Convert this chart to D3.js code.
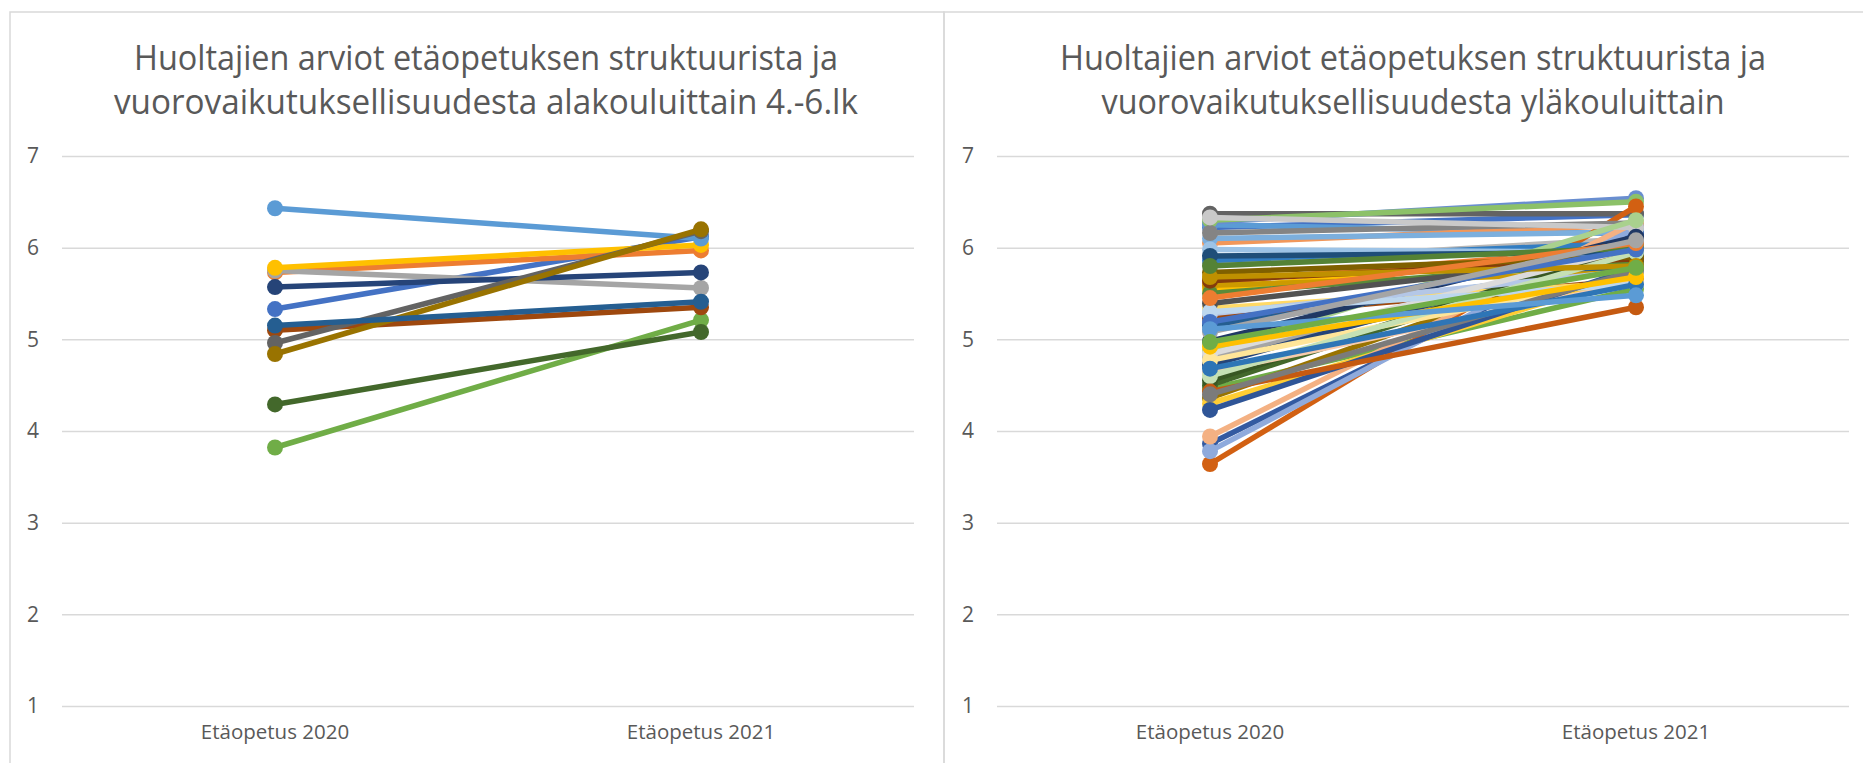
<!DOCTYPE html>
<html>
<head>
<meta charset="utf-8">
<script src="https://cdn.jsdelivr.net/npm/d3@7/dist/d3.min.js"></script>
<style>
  body { margin: 0; background: #fff; }
  svg text { font-family: "Open Sans", "Liberation Sans", sans-serif; fill: #595959; }
  .grid line { stroke: #d9d9d9; stroke-width: 1.5; }
  .panel { fill: none; stroke: #d9d9d9; stroke-width: 1.5; }
</style>
</head>
<body>
<svg id="chart"></svg>
<script>
// categories and ticks
const categories = ['Etäopetus 2020', 'Etäopetus 2021']
const yTicks = [1, 2, 3, 4, 5, 6, 7]

// left chart: alakoulut 4.-6.lk, one school per series
const left2020 = [5.33, 5.73, 5.75, 5.78, 6.43, 3.82, 5.57, 5.10, 4.96, 4.84, 5.15, 4.29]
const left2021 = [6.12, 5.97, 5.56, 6.03, 6.10, 5.21, 5.73, 5.35, 6.18, 6.20, 5.41, 5.08]

// right chart: yläkoulut
const right2020 = [
  6.22, 5.62, 4.81, 5.55, 6.25, 4.46, 4.72, 5.23, 6.37, 4.36, 5.15, 4.50,
  6.28, 6.05, 5.83, 4.30, 6.10, 6.30, 3.86, 3.64, 6.16, 5.59, 5.86, 5.50,
  3.78, 3.94, 6.33, 5.34, 5.98, 4.88, 4.98, 5.64, 5.39, 5.73, 5.91, 4.55,
  5.28, 4.64, 4.84, 4.77, 5.30, 4.60, 4.23, 4.43, 4.40, 5.68, 4.68, 5.80,
  5.19, 5.45, 5.08, 4.92, 5.11, 4.97
]
const right2021 = [
  6.36, 6.00, 5.85, 5.95, 6.15, 5.55, 6.00, 5.65, 6.37, 6.00, 5.82, 6.02,
  6.54, 6.25, 6.10, 5.70, 6.17, 6.50, 6.15, 6.45, 6.27, 5.73, 6.05, 5.85,
  6.22, 6.28, 6.22, 5.62, 5.95, 6.30, 6.12, 5.88, 5.92, 5.90, 5.95, 6.03,
  5.75, 5.62, 6.00, 5.70, 5.60, 5.95, 5.78, 5.35, 5.75, 5.80, 5.60, 6.00,
  5.98, 6.05, 6.08, 5.68, 5.48, 5.78
]

// office-like series colours
const palette = [
  '#4472C4', '#ED7D31', '#A5A5A5', '#FFC000', '#5B9BD5', '#70AD47',
  '#264478', '#9E480E', '#636363', '#997300', '#255E91', '#43682B',
  '#698ED0', '#F1975A', '#B7B7B7', '#FFCD33', '#7CAFDD', '#8CC168',
  '#335AA1', '#D26012', '#848484', '#CC9A00', '#327DC2', '#5A8A39',
  '#8FAADC', '#F4B183', '#C9C9C9', '#FFD966', '#9DC3E6', '#A9D18E',
  '#203864', '#843C0C', '#525252', '#7F6000', '#1F4E79', '#385723',
  '#B4C7E7', '#F8CBAD', '#DBDBDB', '#FFE699', '#BDD7EE', '#C5E0B4',
  '#2F5597', '#C55A11', '#7B7B7B', '#BF9000', '#2E75B6', '#548235'
]

const W = 1863, H = 763

const svg = d3.select('#chart').attr('width', W).attr('height', H)

// chart borders
svg.append('rect').attr('class', 'panel').attr('x', 10).attr('y', 12).attr('width', 934).attr('height', 800)
svg.append('rect').attr('class', 'panel').attr('x', 944).attr('y', 12).attr('width', 940).attr('height', 800)

class SlopeChart {
    constructor(_config, _a, _b) {
        this.config = _config
        this.a = _a
        this.b = _b
        this.initVis()
    }

    initVis() {
        let vis = this
        let c = vis.config

        vis.g = svg.append('g')

        vis.xScale = d3.scaleBand()
            .domain(categories)
            .range([c.left, c.right])

        vis.yScale = d3.scaleLinear()
            .domain([1, 7])
            .range([706, 156])

        // title, two lines
        vis.g.selectAll('.title')
            .data(c.title)
            .join('text')
            .attr('class', 'title')
            .attr('x', c.titleX)
            .attr('y', (d, i) => 70 + i * 44)
            .attr('text-anchor', 'middle')
            .attr('textLength', (d, i) => c.titleWidth[i])
            .attr('lengthAdjust', 'spacingAndGlyphs')
            .style('font-size', '34px')
            .style('font-weight', 400)
            .text(d => d)

        // horizontal gridlines
        const yAxis = d3.axisLeft(vis.yScale)
            .tickValues(yTicks)
            .tickSize(-(c.right - c.left))
            .tickFormat(d3.format('d'))

        vis.g.append('g')
            .attr('class', 'grid')
            .attr('transform', `translate(${c.left},0)`)
            .call(yAxis)
            .call(g => g.select('.domain').remove())
            .call(g => g.selectAll('text')
                .attr('text-anchor', 'middle')
                .attr('x', c.labelX - c.left)
                .style('font-size', '21px'))

        const xAxis = d3.axisBottom(vis.xScale).tickSize(0).tickPadding(0)

        vis.g.append('g')
            .attr('transform', 'translate(0,724)')
            .call(xAxis)
            .call(g => g.select('.domain').remove())
            .call(g => g.selectAll('text')
                .attr('dy', '0.71em')
                .style('font-size', '20.5px'))

        vis.renderVis()
    }

    renderVis() {
        let vis = this
        const x0 = vis.xScale(categories[0]) + vis.xScale.bandwidth() / 2
        const x1 = vis.xScale(categories[1]) + vis.xScale.bandwidth() / 2

        const series = vis.a.map((v, i) => ({
            i: i,
            values: [{x: x0, y: v}, {x: x1, y: vis.b[i]}]
        }))

        const groups = vis.g.append('g')
            .selectAll('.series')
            .data(series)
            .join('g')
            .attr('class', 'series')
            .style('color', d => palette[d.i % palette.length])

        const line = d3.line().x(d => d.x).y(d => vis.yScale(d.y))

        groups.append('path')
            .attr('d', d => line(d.values))
            .attr('fill', 'none')
            .attr('stroke', 'currentColor')
            .attr('stroke-width', 5.5)

        groups.selectAll('circle')
            .data(d => d.values)
            .join('circle')
            .attr('cx', d => d.x)
            .attr('cy', d => vis.yScale(d.y))
            .attr('r', 8)
            .attr('fill', 'currentColor')
    }
}

new SlopeChart({
    left: 62, right: 914, labelX: 33, titleX: 486,
    title: ['Huoltajien arviot etäopetuksen struktuurista ja',
            'vuorovaikutuksellisuudesta alakouluittain 4.-6.lk'],
    titleWidth: [704, 744]
}, left2020, left2021)

new SlopeChart({
    left: 997, right: 1849, labelX: 968, titleX: 1413,
    title: ['Huoltajien arviot etäopetuksen struktuurista ja',
            'vuorovaikutuksellisuudesta yläkouluittain'],
    titleWidth: [706, 623]
}, right2020, right2021)
</script>
</body>
</html>
